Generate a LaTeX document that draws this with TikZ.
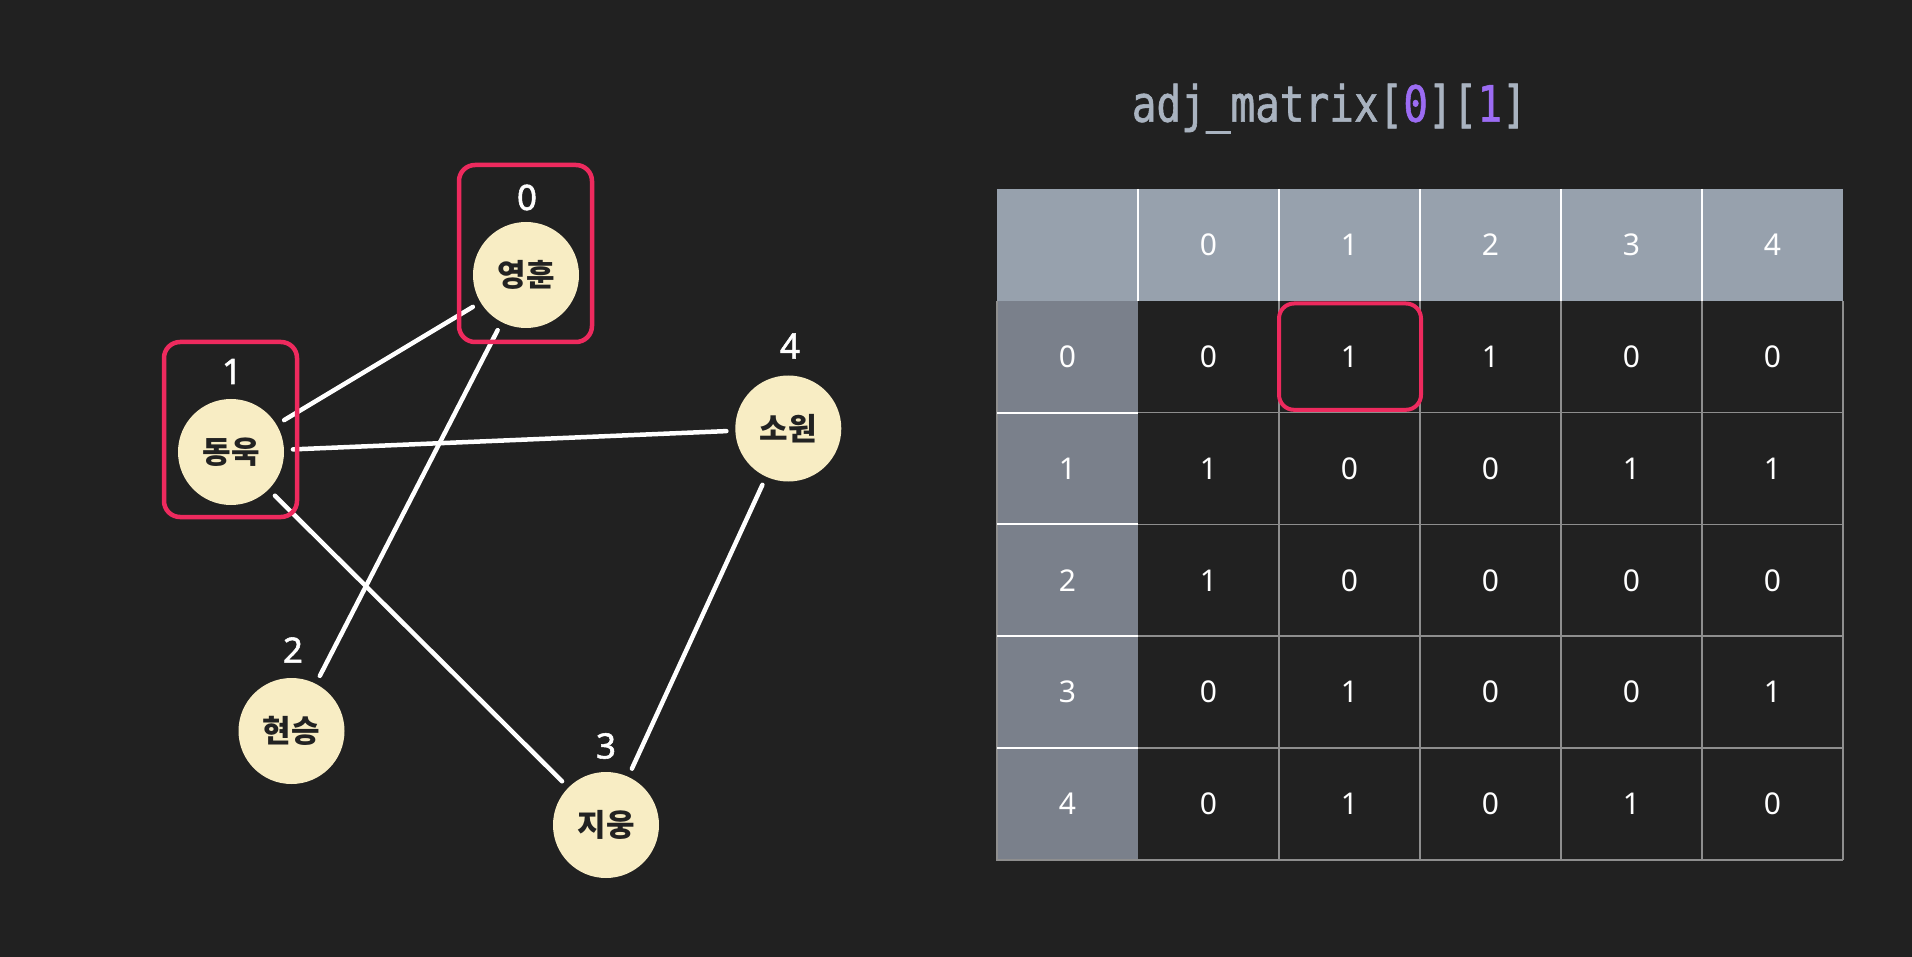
\documentclass[tikz,border=0pt]{standalone}
\usepackage{fontspec}
\newfontfamily\kr{Noto Sans CJK KR}
\newfontfamily\numf{Noto Sans}
\newfontfamily\numb[FakeBold=1.6]{Noto Sans}
\newfontfamily\monof[FakeStretch=0.82,FakeBold=1.2]{DejaVu Sans Mono}
\definecolor{bgc}{HTML}{212121}
\definecolor{nodefill}{HTML}{F8EDC4}
\definecolor{nodetext}{HTML}{222222}
\definecolor{hlred}{HTML}{EE2A5E}
\definecolor{headc}{HTML}{97A1AD}
\definecolor{rowc}{HTML}{7A808B}
\definecolor{gridc}{HTML}{8E8E8E}
\definecolor{titlegrey}{HTML}{A9B3C0}
\definecolor{purp}{HTML}{9C6CF3}
\tikzset{
  vert/.style={circle, fill=nodefill, minimum size=106pt, inner sep=0pt, outer sep=0pt,
    font=\kr\bfseries\fontsize{31}{31}\selectfont, text=nodetext},
  idx/.style={font=\numb\fontsize{35}{35}\selectfont, text=white, inner sep=0pt},
  link/.style={draw=white, line width=4.5pt, line cap=round, shorten <=9pt, shorten >=9pt},
  hlbox/.style={draw=hlred, line width=4.5pt, rounded corners=16pt},
  cellnum/.style={font=\numf\fontsize{30}{30}\selectfont, text=white, inner sep=0pt},
  whitesep/.style={draw=white, line width=2pt},
  gridsep/.style={draw=gridc, line width=1.5pt}
}
\begin{document}
\begin{tikzpicture}[x=1pt,y=-1pt]
\fill[bgc] (0,0) rectangle (1912,957);
\useasboundingbox (0,0) rectangle (1912,957);

% ---- graph ----
\node[vert] (v0) at (526,275) {영훈};
\node[vert] (v1) at (231,452) {동욱};
\node[vert] (v2) at (291.5,731) {현승};
\node[vert] (v3) at (606,825) {지웅};
\node[vert] (v4) at (788.3,428.5) {소원};

\node[idx] (l0) at (527,197.5) {0};
\node[idx] (l1) at (232,371.5) {1};
\node[idx] (l2) at (293,650) {2};
\node[idx] (l3) at (606,746) {3};
\node[idx] (l4) at (790,346) {4};

\draw[link] (v0) -- (v1);
\draw[link] (v0) -- (v2);
\draw[link] (v1) -- (v4);
\draw[link] (v1) -- (v3);
\draw[link] (v4) -- (v3);

\draw[hlbox] (459,165) rectangle (592,342);
\draw[hlbox] (164,342) rectangle (297,517);

% ---- title ----
\node[anchor=base west, inner sep=0pt] (title) at (1131.6,121.7)
  {\monof\fontsize{50}{50}\selectfont\textcolor{titlegrey}{adj\_matrix[}\textcolor{purp}{0}\textcolor{titlegrey}{][}\textcolor{purp}{1}\textcolor{titlegrey}{]}};

% ---- table ----
\def\tx{997}\def\ty{189}\def\cw{141}\def\rh{111.8}
\fill[headc] (997,189) rectangle (1843,300.8);
\fill[rowc] (997,300.8) rectangle (1138,859.8);
% grey grid in data area
\foreach \k in {1,...,5} {
  \draw[gridsep] ({\tx+\cw*(\k+1)},300.8) -- ({\tx+\cw*(\k+1)},859.8);
  \draw[gridsep] (1138,{\ty+\rh*(\k+1)}) -- (1843,{\ty+\rh*(\k+1)});
}
\draw[gridsep] (997,300.8) -- (997,859.8) -- (1138,859.8);
% white separators
\foreach \k in {1,...,5} {
  \draw[whitesep] ({\tx+\cw*\k},189) -- ({\tx+\cw*\k},300.8);
}
\foreach \k in {2,...,5} {
  \draw[whitesep] (997,{\ty+\rh*\k}) -- (1138,{\ty+\rh*\k});
}
% headers
\foreach \c in {0,...,4} {
  \node[cellnum] (h\c) at ({\tx+\cw*(\c+1.5)},{\ty+\rh*0.5}) {\c};
  \node[cellnum] (r\c) at ({\tx+\cw*0.5},{\ty+\rh*(\c+1.5)}) {\c};
}
% values
\foreach \r/\vals in {0/{0,1,1,0,0},1/{1,0,0,1,1},2/{1,0,0,0,0},3/{0,1,0,0,1},4/{0,1,0,1,0}} {
  \foreach \v [count=\c from 0] in \vals {
    \node[cellnum] (m\r\c) at ({\tx+\cw*(\c+1.5)},{\ty+\rh*(\r+1.5)}) {\v};
  }
}
% highlight
\draw[hlred, line width=4pt, rounded corners=15pt] (1279,303.5) rectangle (1421,409.8);
\end{tikzpicture}
\end{document}
